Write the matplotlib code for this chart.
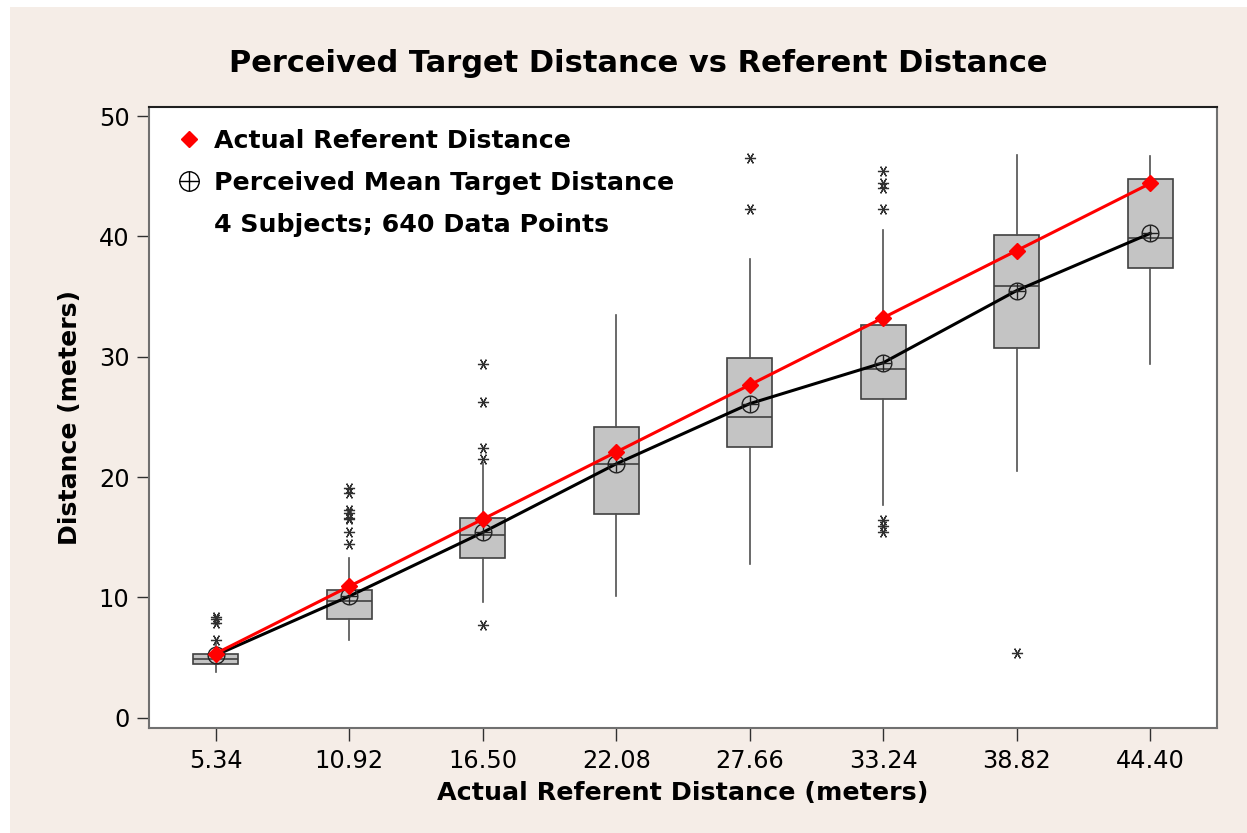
import matplotlib
matplotlib.use("Agg")
import matplotlib.pyplot as plt
from matplotlib.lines import Line2D
from matplotlib.patches import Rectangle

# ---- data ----
referent = [5.34, 10.92, 16.50, 22.08, 27.66, 33.24, 38.82, 44.40]
tick_labels = ["5.34", "10.92", "16.50", "22.08", "27.66", "33.24", "38.82", "44.40"]
q1 = [4.5, 8.2, 13.3, 16.9, 22.5, 26.5, 30.7, 37.4]
median = [4.9, 9.7, 15.2, 21.1, 25.0, 29.0, 35.9, 39.9]
q3 = [5.3, 10.6, 16.6, 24.2, 29.9, 32.6, 40.1, 44.8]
whislo = [3.8, 6.5, 9.6, 10.1, 12.8, 17.7, 20.5, 29.4]
whishi = [6.2, 13.3, 21.2, 33.5, 38.1, 40.5, 46.8, 46.7]
mean = [5.2, 10.1, 15.4, 21.1, 26.1, 29.5, 35.5, 40.25]
fliers = [
    [8.4, 8.2, 7.9, 6.5],
    [19.1, 18.7, 17.3, 17.0, 16.6, 16.5, 15.4, 14.4],
    [29.4, 26.2, 22.4, 21.5, 7.7],
    [],
    [46.5, 42.3],
    [45.4, 44.4, 44.0, 42.3, 16.4, 15.9, 15.4],
    [5.4],
    [],
]

BG = "#F5EDE7"
fig = plt.figure(figsize=(12.47, 8.33), dpi=100, facecolor=BG)
# white margins on top/left as in the reference
fig.patches.append(Rectangle((0, 1 - 7 / 833), 1, 7 / 833, transform=fig.transFigure,
                             facecolor="white", edgecolor="none", zorder=-1))
fig.patches.append(Rectangle((0, 0), 10 / 1247, 1, transform=fig.transFigure,
                             facecolor="white", edgecolor="none", zorder=-1))

ax = fig.add_axes([149 / 1247, 1 - 728 / 833, (1217 - 149) / 1247, (728 - 107) / 833])
ax.set_facecolor("white")

positions = list(range(len(referent)))
stats = []
for i in positions:
    stats.append(dict(med=median[i], q1=q1[i], q3=q3[i], whislo=whislo[i],
                      whishi=whishi[i], fliers=fliers[i], mean=mean[i]))

ax.bxp(stats, positions=positions, widths=0.34, patch_artist=True,
       showcaps=False, showmeans=False,
       boxprops=dict(facecolor="#C4C4C4", edgecolor="#404040", linewidth=1.2),
       medianprops=dict(color="#404040", linewidth=1.2),
       whiskerprops=dict(color="#505050", linewidth=1.2),
       flierprops=dict(marker=(6, 2, 30), markersize=8, markeredgecolor="#303030",
                       markeredgewidth=0.9, linestyle="none"),
       zorder=2)

# mean line and markers
ax.plot(positions, mean, color="black", linewidth=2.2, zorder=3)
ax.plot(positions, mean, linestyle="none", marker="o", markersize=12,
        markerfacecolor="none", markeredgecolor="#202020", markeredgewidth=1.0, zorder=4)
ax.plot(positions, mean, linestyle="none", marker="+", markersize=12,
        markeredgecolor="#202020", markeredgewidth=1.0, zorder=4)
# referent line
ax.plot(positions, referent, color="red", linewidth=2.2, marker="D", markersize=8,
        markerfacecolor="red", markeredgecolor="red", zorder=5)

ax.set_xlim(-0.5, 7.5)
ax.set_ylim(-0.85, 50.75)
ax.set_yticks([0, 10, 20, 30, 40, 50])
ax.set_xticks(positions)
ax.set_xticklabels(tick_labels)
ax.tick_params(axis="both", direction="out", length=9, width=1.0, color="#303030",
               labelsize=17.3, pad=5)
ax.tick_params(axis="x", pad=6)

for s in ax.spines.values():
    s.set_color("#707070")
    s.set_linewidth(1.5)
ax.spines["top"].set_color("#202020")

ax.set_xlabel("Actual Referent Distance (meters)", fontsize=18.3, fontweight="bold", labelpad=6)
ax.set_ylabel("Distance (meters)", fontsize=18.1, fontweight="bold", labelpad=12)

fig.text(638 / 1247, 1 - 63 / 833, "Perceived Target Distance vs Referent Distance",
         ha="center", va="center", fontsize=22, fontweight="bold")

# legend
h1 = Line2D([], [], linestyle="none", marker="D", markersize=8, color="red")
h2a = Line2D([], [], linestyle="none", marker="o", markersize=14, markerfacecolor="none",
             markeredgecolor="black", markeredgewidth=1.0)
h2b = Line2D([], [], linestyle="none", marker="+", markersize=14, markeredgecolor="black",
             markeredgewidth=1.0)
h3 = Line2D([], [], linestyle="none")
leg = ax.legend([h1, (h2a, h2b), h3],
                ["Actual Referent Distance", "Perceived Mean Target Distance",
                 "4 Subjects; 640 Data Points"],
                loc="upper left", bbox_to_anchor=(0.002, 1.005), frameon=False,
                prop=dict(size=18.2, weight="bold"), handlelength=1.0, handletextpad=0.5,
                labelspacing=0.70, borderaxespad=0.6)

fig.savefig("out.png", dpi=100, facecolor=BG)
